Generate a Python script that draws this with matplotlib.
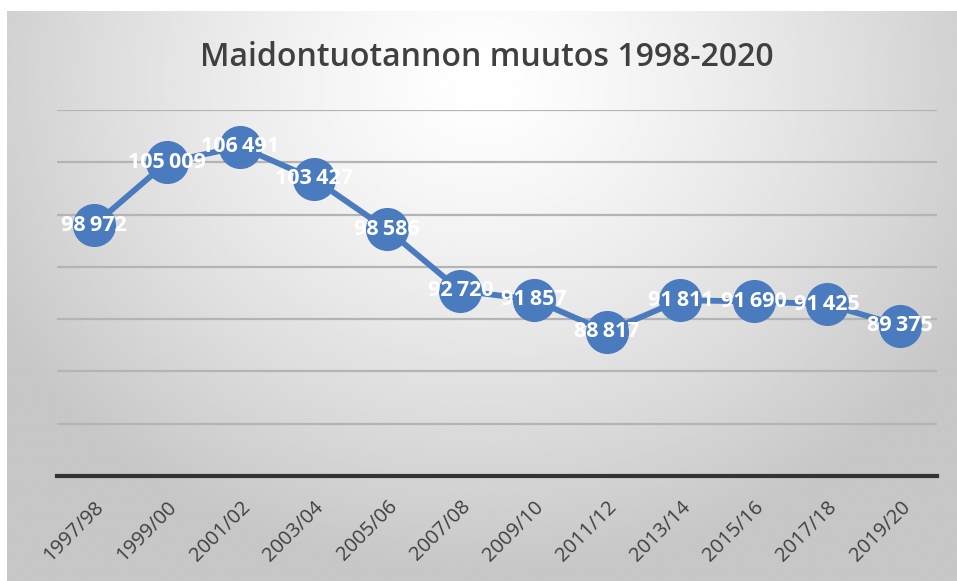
import matplotlib
matplotlib.use("Agg")
import matplotlib.pyplot as plt
import numpy as np

plt.rcParams["font.family"] = ["Open Sans", "DejaVu Sans"]

# data
seasons = ["1997/98", "1999/00", "2001/02", "2003/04", "2005/06", "2007/08",
           "2009/10", "2011/12", "2013/14", "2015/16", "2017/18", "2019/20"]
production = [98972, 105009, 106491, 103427, 98586, 92720,
              91857, 88817, 91811, 91690, 91425, 89375]
y_ticks = [75000, 80000, 85000, 90000, 95000, 100000, 105000, 110000]

W, H = 957, 581
fig = plt.figure(figsize=(W / 100, H / 100), dpi=100)
fig.patch.set_facecolor("white")

# radial grey gradient background of the chart area
bg = fig.add_axes([7 / W, 0, (W - 7) / W, (H - 11) / H])
bg.set_axis_off()
gx, gy = np.meshgrid(np.linspace(0, 1, 400), np.linspace(0, 1, 250))
r = np.sqrt(((gx - 0.5) / 0.75) ** 2 + ((gy - 0.12) / 1.1) ** 2)
shade = np.clip(1.0 - 0.30 * r ** 1.3, 0.78, 1.0)
bg.imshow(shade, cmap="gray", vmin=0, vmax=1, aspect="auto",
          extent=[0, 1, 1, 0], interpolation="bilinear")
bg.set_xlim(0, 1)
bg.set_ylim(1, 0)

ax = fig.add_axes([57 / W, (H - 476) / H, 880 / W, (476 - 110) / H])
ax.patch.set_alpha(0)
x = np.arange(len(seasons))
ax.plot(x, production, color="#4a7bbf", lw=4.2, marker="o", ms=30,
        mfc="#4a7bbf", mec="#4a7bbf", zorder=3)
for xi, v in zip(x, production):
    lbl = f"{v:,}".replace(",", "\u2009")
    ax.text(xi, v, lbl, color="white", fontsize=15.5, fontweight="bold",
            ha="center", va="center", zorder=4)

ax.set_xlim(-0.5, len(seasons) - 0.5)
ax.set_ylim(y_ticks[0], y_ticks[-1])
ax.set_yticks(y_ticks)
ax.yaxis.grid(True, color="#b4b4b4", lw=1.6)
ax.set_axisbelow(True)
ax.tick_params(axis="y", left=False, labelleft=False)
ax.set_xticks(x)
ax.set_xticklabels(seasons, rotation=45, ha="right", rotation_mode="anchor",
                   fontsize=14.5, color="#404040")
ax.tick_params(axis="x", length=0, pad=15)
for s in ["top", "right", "left"]:
    ax.spines[s].set_visible(False)
ax.spines["bottom"].set_color("#333333")
ax.spines["bottom"].set_linewidth(3)

fig.text(487 / W, 1 - 58 / H, "Maidontuotannon muutos 1998-2020",
         ha="center", va="center", fontsize=23, fontweight="semibold",
         color="#404040")

fig.savefig("out.png", dpi=100)
